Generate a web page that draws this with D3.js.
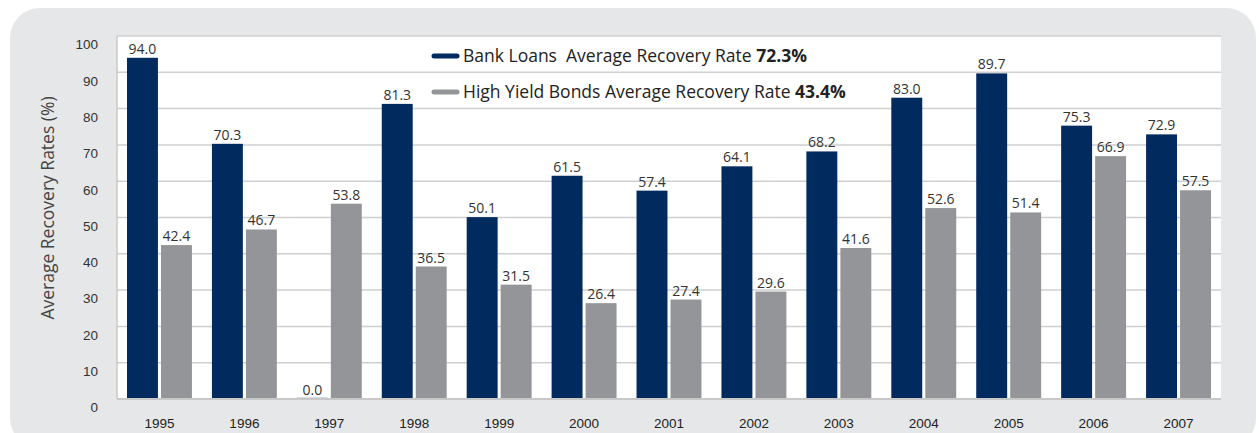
<!DOCTYPE html>
<html>
<head>
<meta charset="utf-8">
<script src="https://cdn.jsdelivr.net/npm/d3@7"></script>
<style>
  html, body { margin: 0; padding: 0; background: #fff; }
  svg { display: block; font-family: "Open Sans", Roboto, sans-serif; }
</style>
</head>
<body>
<div id="chart"></div>
<script>
// -----------------------------
// DATA
// -----------------------------
const years = ["1995", "1996", "1997", "1998", "1999", "2000", "2001", "2002", "2003", "2004", "2005", "2006", "2007"];
const bankLoans = [94.0, 70.3, 0.0, 81.3, 50.1, 61.5, 57.4, 64.1, 68.2, 83.0, 89.7, 75.3, 72.9];
const highYield = [42.4, 46.7, 53.8, 36.5, 31.5, 26.4, 27.4, 29.6, 41.6, 52.6, 51.4, 66.9, 57.5];
const yTicks = [0, 10, 20, 30, 40, 50, 60, 70, 80, 90, 100];
const seriesNames = ["Bank Loans", "High Yield Bonds"];
const legendLabels = ["Bank Loans  Average Recovery Rate ", "High Yield Bonds Average Recovery Rate "];
const legendAverages = ["72.3%", "43.4%"];

const colors = ["#012b5f", "#939598"];

// -----------------------------
// SIZES
// -----------------------------
const width = 1259;
const height = 433;
const margin = { top: 36, right: 38, bottom: 34, left: 117 };
const innerWidth = width - margin.left - margin.right;
const innerHeight = height - margin.top - margin.bottom;

const svg = d3.select("#chart")
    .append("svg")
    .attr("width", width)
    .attr("height", height);

// grey rounded panel behind the chart
svg.append("rect")
    .attr("x", 10)
    .attr("y", 8)
    .attr("width", 1246)
    .attr("height", 440)
    .attr("rx", 30)
    .attr("fill", "#e6e7e8");

const g = svg.append("g")
    .attr("transform", `translate(${margin.left},${margin.top})`);

// white plot area
g.append("rect")
    .attr("width", innerWidth)
    .attr("height", innerHeight)
    .attr("fill", "#fff");

// -----------------------------
// SCALES
// -----------------------------
const x = d3.scaleBand()
    .domain(years)
    .range([0, innerWidth]);

const inner = d3.scaleBand()
    .domain(seriesNames)
    .range([10, x.bandwidth() - 10])
    .paddingInner(0.09);

const y = d3.scaleLinear()
    .domain([0, 100])
    .range([innerHeight, 0]);

// gridlines
g.append("g")
    .selectAll("line")
    .data(yTicks)
    .join("line")
    .attr("x1", 0)
    .attr("x2", innerWidth)
    .attr("y1", d => y(d))
    .attr("y2", d => y(d))
    .attr("stroke", "#cfcfcf")
    .attr("stroke-width", 1.5);

// left border of the plot
g.append("line")
    .attr("x1", 0).attr("x2", 0)
    .attr("y1", 0).attr("y2", innerHeight)
    .attr("stroke", "#c8c8c8")
    .attr("stroke-width", 1.5);

// y axis labels (sit a little below their gridline, as in the original)
const yAxis = g.append("g")
    .call(d3.axisLeft(y).tickValues(yTicks).tickSize(0).tickPadding(19));
yAxis.select(".domain").remove();
yAxis.selectAll("text")
    .attr("dy", "0.95em")
    .attr("fill", "#333")
    .style("font-size", "13.5px");

// x axis labels
const xAxis = g.append("g")
    .attr("transform", `translate(0,${innerHeight})`)
    .call(d3.axisBottom(x).tickSize(0).tickPadding(19));
xAxis.select(".domain").remove();
xAxis.selectAll("text")
    .attr("fill", "#222")
    .style("font-size", "13.5px");

// -----------------------------
// BARS
// -----------------------------
const rows = years.map((yr, i) => ({
    year: yr,
    values: [
        { name: seriesNames[0], value: bankLoans[i], color: colors[0] },
        { name: seriesNames[1], value: highYield[i], color: colors[1] }
    ]
}));

const groups = g.append("g")
    .selectAll("g")
    .data(rows)
    .join("g")
    .attr("transform", d => `translate(${x(d.year)},0)`);

groups.selectAll("rect")
    .data(d => d.values)
    .join("rect")
    .attr("x", d => inner(d.name))
    .attr("width", inner.bandwidth())
    .attr("y", d => d.value === 0 ? innerHeight - 1.5 : y(d.value))
    .attr("height", d => d.value === 0 ? 1.5 : innerHeight - y(d.value))
    .attr("fill", d => d.value === 0 ? "#a9b8d2" : d.color);

groups.selectAll("text")
    .data(d => d.values)
    .join("text")
    .attr("x", d => inner(d.name) + inner.bandwidth() / 2)
    .attr("y", d => y(d.value) - 4)
    .attr("text-anchor", "middle")
    .attr("fill", "#333")
    .style("font-size", "14px")
    .text(d => d.value.toFixed(1));

// bottom axis line
g.append("line")
    .attr("x1", 0).attr("x2", innerWidth)
    .attr("y1", innerHeight).attr("y2", innerHeight)
    .attr("stroke", "#c8c8c8")
    .attr("stroke-width", 2);

// y axis title
svg.append("text")
    .attr("transform", "translate(54,208) rotate(-90)")
    .attr("text-anchor", "middle")
    .attr("fill", "#444")
    .style("font-size", "17.5px")
    .text("Average Recovery Rates (%)");

// -----------------------------
// LEGEND
// -----------------------------
const legend = svg.append("g")
    .attr("transform", "translate(434,56)");

const legendItems = legend.selectAll("g")
    .data(legendLabels)
    .join("g")
    .attr("transform", (d, i) => `translate(0,${i * 36})`);

legendItems.append("line")
    .attr("x1", 0).attr("x2", 23)
    .attr("stroke", (d, i) => colors[i])
    .attr("stroke-width", 5)
    .attr("stroke-linecap", "round");

const legendText = legendItems.append("text")
    .attr("x", 29)
    .attr("y", 6)
    .attr("fill", "#222")
    .style("font-size", "17.5px")
    .style("white-space", "pre");

legendText.append("tspan").text(d => d);
legendText.append("tspan")
    .style("font-weight", "bold")
    .text((d, i) => legendAverages[i]);
</script>
</body>
</html>
